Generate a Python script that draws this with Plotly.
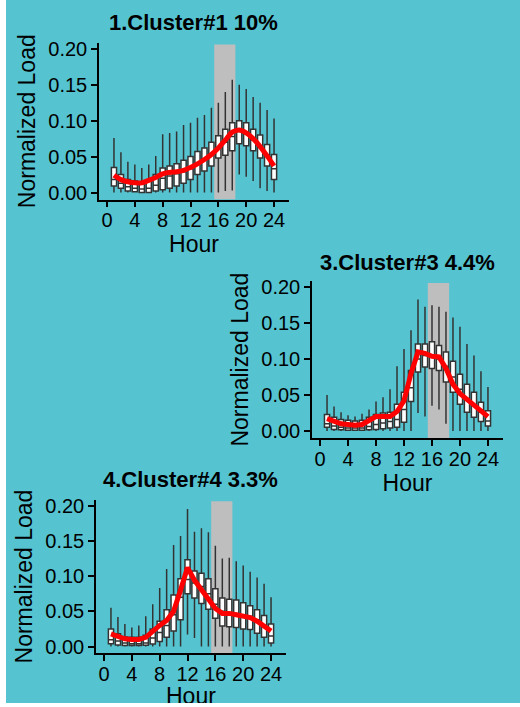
import plotly.graph_objects as go

HOURS = list(range(1, 25))

# Cluster 1 (10%)
C1_LOW = [0, 0, 0, 0, 0, 0, 0, 0, 0, 0, 0, 0, 0, 0, 0, 0, 0.002, 0.003, 0.025, 0.022, 0.016, 0.006, 0.002, 0]
C1_Q1 = [0.009, 0.006, 0.002, 0.001, 0.000, 0.000, 0.002, 0.004, 0.006, 0.009, 0.013, 0.018, 0.025, 0.030, 0.037, 0.048, 0.052, 0.058, 0.068, 0.065, 0.058, 0.048, 0.037, 0.018]
C1_MED = [0.018, 0.013, 0.008, 0.006, 0.005, 0.006, 0.010, 0.020, 0.023, 0.026, 0.029, 0.033, 0.040, 0.045, 0.052, 0.062, 0.070, 0.078, 0.085, 0.082, 0.073, 0.065, 0.052, 0.033]
C1_Q3 = [0.035, 0.025, 0.018, 0.016, 0.013, 0.016, 0.025, 0.034, 0.037, 0.040, 0.045, 0.050, 0.057, 0.062, 0.070, 0.079, 0.088, 0.097, 0.100, 0.097, 0.088, 0.080, 0.067, 0.053]
C1_HIGH = [0.076, 0.056, 0.043, 0.039, 0.034, 0.039, 0.051, 0.081, 0.083, 0.085, 0.094, 0.097, 0.104, 0.108, 0.118, 0.125, 0.140, 0.157, 0.150, 0.144, 0.133, 0.125, 0.115, 0.103]
C1_MEAN = [0.024, 0.018, 0.015, 0.0135, 0.0135, 0.017, 0.021, 0.026, 0.028, 0.029, 0.031, 0.035, 0.040, 0.046, 0.053, 0.062, 0.073, 0.084, 0.087, 0.083, 0.075, 0.064, 0.051, 0.037]

# Cluster 3 (4.4%)
C3_LOW = [0, 0, 0, 0, 0, 0, 0, 0, 0, 0, 0, 0, 0, 0.025, 0.020, 0.035, 0.030, 0.010, 0, 0, 0, 0, 0, 0]
C3_Q1 = [0.005, 0.002, 0.0015, 0.001, 0.001, 0.001, 0.0015, 0.002, 0.003, 0.004, 0.005, 0.012, 0.041, 0.082, 0.089, 0.087, 0.084, 0.068, 0.054, 0.037, 0.026, 0.019, 0.013, 0.007]
C3_MED = [0.010, 0.007, 0.005, 0.004, 0.004, 0.004, 0.006, 0.009, 0.011, 0.013, 0.016, 0.030, 0.060, 0.100, 0.105, 0.105, 0.100, 0.090, 0.075, 0.058, 0.045, 0.036, 0.026, 0.014]
C3_Q3 = [0.023, 0.019, 0.016, 0.015, 0.014, 0.015, 0.019, 0.023, 0.025, 0.026, 0.037, 0.054, 0.084, 0.121, 0.121, 0.124, 0.119, 0.110, 0.097, 0.079, 0.065, 0.054, 0.040, 0.028]
C3_HIGH = [0.050, 0.034, 0.026, 0.022, 0.020, 0.024, 0.030, 0.041, 0.047, 0.058, 0.090, 0.114, 0.140, 0.183, 0.173, 0.175, 0.173, 0.166, 0.158, 0.145, 0.121, 0.105, 0.083, 0.061]
C3_MEAN = [0.017, 0.013, 0.010, 0.009, 0.008, 0.009, 0.014, 0.020, 0.020, 0.020, 0.027, 0.042, 0.080, 0.110, 0.108, 0.104, 0.103, 0.087, 0.065, 0.052, 0.044, 0.036, 0.028, 0.020]

# Cluster 4 (3.3%)
C4_LOW = [0, 0, 0, 0, 0, 0, 0, 0, 0, 0, 0, 0.017, 0.012, 0, 0, 0, 0, 0, 0, 0, 0, 0, 0, 0]
C4_Q1 = [0.004, 0.002, 0.0014, 0.0014, 0.0014, 0.0019, 0.0035, 0.007, 0.013, 0.022, 0.038, 0.075, 0.069, 0.061, 0.053, 0.040, 0.029, 0.028, 0.027, 0.025, 0.024, 0.019, 0.013, 0.005]
C4_MED = [0.0095, 0.008, 0.005, 0.004, 0.004, 0.005, 0.012, 0.020, 0.030, 0.045, 0.070, 0.095, 0.090, 0.085, 0.075, 0.060, 0.050, 0.048, 0.047, 0.045, 0.043, 0.038, 0.030, 0.015]
C4_Q3 = [0.025, 0.018, 0.0135, 0.013, 0.013, 0.016, 0.025, 0.036, 0.052, 0.073, 0.096, 0.123, 0.107, 0.104, 0.096, 0.082, 0.069, 0.067, 0.066, 0.062, 0.058, 0.052, 0.044, 0.032]
C4_HIGH = [0.055, 0.042, 0.032, 0.027, 0.030, 0.043, 0.060, 0.083, 0.110, 0.144, 0.157, 0.195, 0.163, 0.168, 0.162, 0.143, 0.125, 0.126, 0.121, 0.115, 0.106, 0.098, 0.089, 0.070]
C4_MEAN = [0.018, 0.014, 0.011, 0.010, 0.010, 0.013, 0.022, 0.030, 0.037, 0.050, 0.080, 0.112, 0.094, 0.081, 0.068, 0.054, 0.047, 0.047, 0.045, 0.043, 0.041, 0.036, 0.029, 0.022]

TITLES = ["1.Cluster#1 10%", "3.Cluster#3 4.4%", "4.Cluster#4 3.3%"]
X_TITLE = "Hour"
Y_TITLE = "Normalized Load"
PEAK_HOURS = [15.4, 18.45]
X_TICKS = [0, 4, 8, 12, 16, 20, 24]
Y_TICKS = [0, 0.05, 0.10, 0.15, 0.20]

W, H = 520, 703
TEAL = "#55C4D0"
FONT = "Liberation Sans, Arial, Helvetica, sans-serif"


def py(v):
    # target screen pixel row -> page pixel row (compensates the vertical squeeze seen in rendering)
    return (v - 5) / 0.984


clusters = [
    (C1_LOW, C1_Q1, C1_MED, C1_Q3, C1_HIGH, C1_MEAN, "spline"),
    (C3_LOW, C3_Q1, C3_MED, C3_Q3, C3_HIGH, C3_MEAN, "linear"),
    (C4_LOW, C4_Q1, C4_MED, C4_Q3, C4_HIGH, C4_MEAN, "linear"),
]

# panel pixel boxes: (left, right, top, bottom)
panels = [(99, 289, 43, 200), (312, 503, 282, 439), (96, 286, 501, 655)]
title_pos = [(193, 23), (407, 263), (190, 481)]
YR = [-0.0097, 0.2083]
XR = [-1.15, 26.15]

fig = go.Figure()
shapes = [dict(type="rect", xref="paper", yref="paper", x0=6 / W, x1=1.01,
               y0=-0.05, y1=1.05,
               fillcolor=TEAL, line=dict(width=0), layer="below")]
annotations = []

for i, (low, q1, med, q3, high, mean, shape) in enumerate(clusters):
    sfx = "" if i == 0 else str(i + 1)
    xa, ya = "x" + sfx, "y" + sfx
    fig.add_trace(go.Box(
        x=HOURS, q1=q1, median=med, q3=q3, lowerfence=low, upperfence=high,
        xaxis=xa, yaxis=ya, width=0.74, whiskerwidth=0, boxpoints=False,
        fillcolor="white", line=dict(color="#333333", width=1.5),
        showlegend=False, hoverinfo="skip"))
    fig.add_trace(go.Scatter(
        x=HOURS, y=mean, mode="lines", xaxis=xa, yaxis=ya,
        line=dict(color="#FF0000", width=5, shape=shape),
        showlegend=False, hoverinfo="skip"))
    l, r, t, b = panels[i]
    axcommon = dict(showline=True, linecolor="black", linewidth=1.5, ticks="outside",
                    ticklen=6, tickwidth=1.5, tickcolor="black", showgrid=False,
                    zeroline=False, tickfont=dict(size=20, color="black", family=FONT))
    last = i == len(clusters) - 1
    xtitle = dict(text="" if last else X_TITLE,
                  font=dict(size=23, color="black", family=FONT), standoff=2)
    fig.layout["xaxis" + sfx] = dict(
        domain=[l / W, r / W], range=XR, tickvals=X_TICKS, anchor=ya, ticklabelstandoff=-4,
        title=xtitle, **axcommon)
    fig.layout["yaxis" + sfx] = dict(
        domain=[1 - py(b) / H, 1 - py(t) / H], range=YR, tickvals=Y_TICKS, tickformat=".2f",
        anchor=xa,
        title=dict(text=Y_TITLE, font=dict(size=23, color="black", family=FONT), standoff=6),
        **axcommon)
    shapes.append(dict(type="rect", xref=xa, yref=ya, x0=PEAK_HOURS[0], x1=PEAK_HOURS[1],
                       y0=YR[0], y1=0.206, fillcolor="#BEBEBE", line=dict(width=0), layer="below"))
    tx, ty = title_pos[i]
    annotations.append(dict(text="<b>" + TITLES[i] + "</b>", xref="paper", yref="paper",
                            x=tx / W, y=1 - py(ty) / H, xanchor="center", yanchor="middle",
                            showarrow=False, font=dict(size=22, color="black", family=FONT)))
    if last:
        # bottom panel's x-axis title sits on the lower edge of the picture, half cut off
        annotations.append(dict(text=X_TITLE, xref="paper", yref="paper",
                                x=(l + r) / 2 / W, y=1 - py(698) / H,
                                xanchor="center", yanchor="middle", showarrow=False,
                                font=dict(size=23, color="black", family=FONT)))

fig.update_layout(width=W, height=H, margin=dict(l=0, r=0, t=0, b=0),
                  paper_bgcolor="white", plot_bgcolor="rgba(0,0,0,0)",
                  shapes=shapes, annotations=annotations, showlegend=False)
fig.write_html("out.html")
